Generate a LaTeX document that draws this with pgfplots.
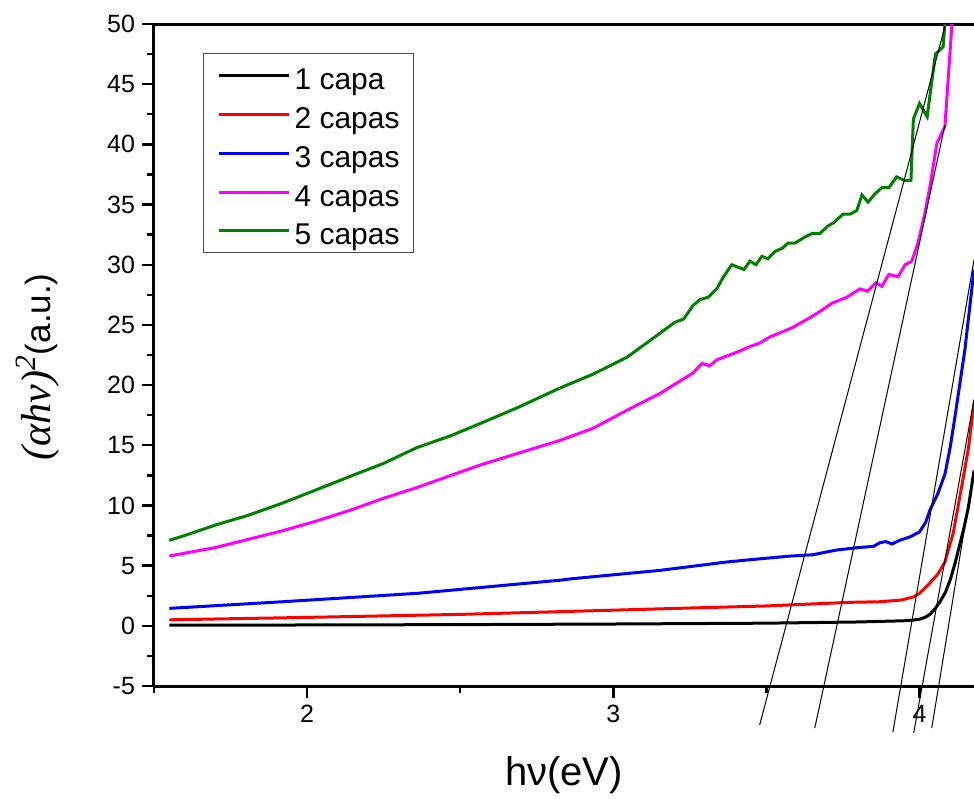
\documentclass[border=0pt]{standalone}
\usepackage{fontspec}
\setmainfont{Liberation Sans}
\newfontfamily\timesf{Liberation Serif}
\usepackage{pgfplots}
\pgfplotsset{compat=1.18}
\definecolor{ogreen}{RGB}{0,128,0}
\definecolor{omag}{RGB}{255,0,255}
\begin{document}
\begin{tikzpicture}
\begin{axis}[
  scale only axis,
  width=410pt, height=331pt,
  xmin=1.5, xmax=4.178, ymin=-5, ymax=50,
  clip=false,
  axis x line=box, axis y line=left,
  axis line style={-, line width=1.5pt},
  xtick={2,3,4}, minor xtick={1.5,2.5,3.5},
  ytick={-5,0,...,50}, minor ytick={-2.5,2.5,7.5,12.5,17.5,22.5,27.5,32.5,37.5,42.5,47.5},
  xtick pos=bottom, ytick pos=left,
  tick align=outside,
  major tick length=6pt, minor tick length=3.5pt,
  every tick/.style={black, line width=1.2pt},
  /pgf/number format/assume math mode=true,
  tick label style={font=\fontsize{12.5}{15}\selectfont},
  xlabel={hν(eV)},
  ylabel={{\fontsize{21}{24}\selectfont\timesf\itshape (αhν)\textsuperscript{2}}(a.u.)},
  xlabel style={at={(axis description cs:0.5,-0.1057)}, anchor=north, inner sep=0pt, font=\fontsize{20}{24}\selectfont},
  ylabel style={at={(axis description cs:-0.1415,0.482)}, anchor=center, inner sep=0pt, font=\fontsize{17.5}{21}\selectfont},
  legend style={at={(rel axis cs:0.0598,0.956)}, anchor=north west, draw=black!70, line width=0.5pt,
    font=\fontsize{15}{18}\selectfont, inner xsep=7pt, inner ysep=4pt, column sep=2pt, row sep=5.4pt,
    nodes={inner sep=0pt, text height=14pt, text depth=0pt}},
  legend cell align=left,
  legend image code/.code={\draw[#1] (0pt,0pt) -- (35pt,0pt);},
  every axis plot/.append style={line width=1.5pt},
]
\addplot[black] coordinates {(1.55,0.05) (2.0,0.07) (2.5,0.1) (3.0,0.15) (3.5,0.22) (3.8,0.32) (3.95,0.42) (3.98,0.48) (4.0,0.55) (4.018,0.7) (4.034,0.95) (4.05,1.4) (4.067,2.0) (4.085,2.8) (4.10,3.8) (4.115,5.1) (4.13,6.6) (4.145,8.1) (4.16,9.9) (4.178,12.9)};
\addlegendentry{1 capa}
\addplot[red] coordinates {(1.55,0.5) (2.0,0.7) (2.5,0.95) (2.86,1.2) (3.0,1.3) (3.28,1.5) (3.5,1.65) (3.77,1.95) (3.87,2.0) (3.94,2.14) (3.98,2.4) (4.0,2.7) (4.034,3.55) (4.06,4.3) (4.083,5.3) (4.11,7.7) (4.14,11.9) (4.16,14.8) (4.178,18.5)};
\addlegendentry{2 capas}
\addplot[blue] coordinates {(1.55,1.45) (1.92,2.0) (2.36,2.7) (2.83,3.8) (2.86,3.9) (3.15,4.6) (3.37,5.3) (3.45,5.5) (3.58,5.8) (3.65,5.9) (3.73,6.3) (3.8,6.5) (3.85,6.6) (3.87,6.9) (3.89,7.0) (3.91,6.8) (3.935,7.1) (3.97,7.4) (4.0,7.8) (4.02,8.6) (4.034,9.6) (4.06,11.0) (4.083,12.6) (4.10,14.8) (4.116,17.4) (4.148,22.9) (4.178,29.6)};
\addlegendentry{3 capas}
\addplot[omag] coordinates {(1.55,5.8) (1.70,6.5) (1.81,7.2) (1.92,7.9) (2.03,8.7) (2.14,9.6) (2.25,10.6) (2.36,11.5) (2.47,12.5) (2.57,13.4) (2.685,14.3) (2.825,15.4) (2.933,16.4) (3.044,17.9) (3.152,19.3) (3.26,21.0) (3.29,21.8) (3.315,21.6) (3.338,22.1) (3.38,22.5) (3.41,22.8) (3.446,23.2) (3.479,23.5) (3.511,24.0) (3.55,24.4) (3.587,24.8) (3.642,25.6) (3.68,26.2) (3.714,26.8) (3.763,27.3) (3.806,28.0) (3.83,27.8) (3.858,28.5) (3.877,28.2) (3.90,29.2) (3.93,29.0) (3.953,30.0) (3.975,30.3) (3.995,31.8) (4.018,34.3) (4.034,36.5) (4.057,40.1) (4.083,41.5) (4.106,50)};
\addlegendentry{4 capas}
\addplot[ogreen] coordinates {(1.55,7.1) (1.60,7.5) (1.704,8.4) (1.81,9.2) (1.92,10.2) (2.03,11.3) (2.139,12.4) (2.25,13.5) (2.358,14.8) (2.47,15.8) (2.574,16.9) (2.685,18.1) (2.825,19.75) (2.933,20.9) (3.044,22.3) (3.152,24.3) (3.20,25.2) (3.23,25.5) (3.26,26.6) (3.283,27.1) (3.31,27.3) (3.338,28.0) (3.36,29.0) (3.387,30.0) (3.427,29.6) (3.446,30.3) (3.466,30.0) (3.485,30.7) (3.505,30.5) (3.528,31.1) (3.554,31.4) (3.57,31.8) (3.593,31.8) (3.626,32.3) (3.649,32.6) (3.675,32.6) (3.70,33.2) (3.72,33.5) (3.75,34.2) (3.773,34.2) (3.795,34.5) (3.812,35.8) (3.832,35.2) (3.855,35.9) (3.877,36.4) (3.90,36.4) (3.925,37.3) (3.952,37.0) (3.972,37.0) (3.98,42.1) (4.0,43.4) (4.025,42.3) (4.052,47.5) (4.077,48.1) (4.083,50)};
\addlegendentry{5 capas}
\addplot[black, line width=0.5pt, forget plot] coordinates {(3.478,-8.24) (4.083,49.8)};
\addplot[black, line width=0.5pt, forget plot] coordinates {(3.658,-8.49) (4.083,41.6)};
\addplot[black, line width=0.5pt, forget plot] coordinates {(3.913,-8.83) (4.178,30.4)};
\addplot[black, line width=0.5pt, forget plot] coordinates {(3.981,-8.9) (4.178,18.8)};
\addplot[black, line width=0.5pt, forget plot] coordinates {(4.04,-8.49) (4.178,12.9)};
\end{axis}
\pgfresetboundingbox
\path[use as bounding box] (-77pt,-56pt) rectangle (410pt,343pt);
\end{tikzpicture}
\end{document}
